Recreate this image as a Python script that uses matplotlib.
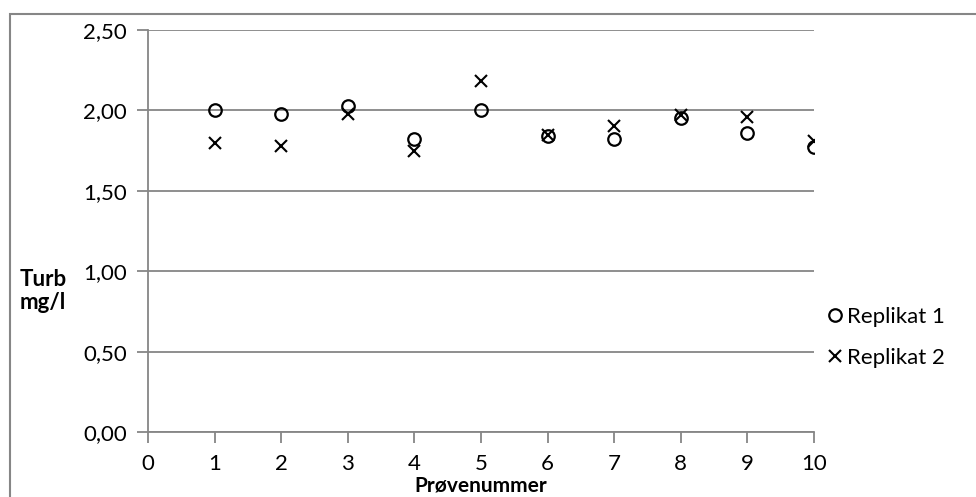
import matplotlib
matplotlib.use("Agg")
import matplotlib.pyplot as plt
from matplotlib.patches import Rectangle
from matplotlib.ticker import FuncFormatter

plt.rcParams['font.family'] = ['Lato', 'DejaVu Sans']

prove = [1, 2, 3, 4, 5, 6, 7, 8, 9, 10]
replikat1 = [2.00, 1.98, 2.03, 1.82, 2.00, 1.84, 1.82, 1.95, 1.86, 1.77]
replikat2 = [1.80, 1.78, 1.98, 1.75, 2.18, 1.85, 1.90, 1.97, 1.96, 1.81]

grey = "#868686"

fig = plt.figure(figsize=(9.76, 4.97), dpi=100)
ax = fig.add_axes([148/976, 1-432/497, (814-148)/976, (432-30)/497])

ax.plot(prove, replikat1, linestyle="none", marker="o", markersize=9,
        markerfacecolor="none", markeredgecolor="black", markeredgewidth=1.6, label="Replikat 1")
ax.plot(prove, replikat2, linestyle="none", marker="x", markersize=9,
        color="black", markeredgewidth=1.5, label="Replikat 2")

ax.set_xlim(0, 10)
ax.set_ylim(0, 2.5)
ax.set_xticks(range(0, 11))
ax.set_yticks([0, 0.5, 1.0, 1.5, 2.0, 2.5])
ax.yaxis.set_major_formatter(FuncFormatter(lambda v, p: f"{v:.2f}".replace(".", ",")))
ax.grid(axis="y", color=grey, linewidth=1.3)
ax.set_axisbelow(True)
for s in ["top", "right"]:
    ax.spines[s].set_visible(False)
for s in ["left", "bottom"]:
    ax.spines[s].set_color(grey)
    ax.spines[s].set_linewidth(1.3)
ax.tick_params(axis="both", direction="out", length=8, width=1.3, color=grey,
               labelsize=16, labelcolor="black")
ax.tick_params(axis="y", pad=7)
ax.tick_params(axis="x", pad=8)

ax.set_xlabel("Prøvenummer", fontsize=15, fontweight="bold")
ax.xaxis.set_label_coords(0.5, -63/402)
ax.xaxis.label.set_va("bottom")
ax.set_ylabel("Turb\nmg/l", fontsize=16, fontweight="bold", rotation=0,
              ha="left", va="center", multialignment="left", linespacing=1.1)
ax.yaxis.set_label_coords(-128/666, 0.35)

ax.legend(loc="center left", bbox_to_anchor=(1.0, 0.236), frameon=False,
          fontsize=16, handlelength=0.5, handletextpad=0.3, labelspacing=0.95,
          borderaxespad=0.3)

fig.patches.append(Rectangle((10/976, -0.1), 1.0, 1.1 - 14/497, transform=fig.transFigure,
                             fill=False, edgecolor=grey, linewidth=1.5, figure=fig))

fig.savefig("out.png", dpi=100)
